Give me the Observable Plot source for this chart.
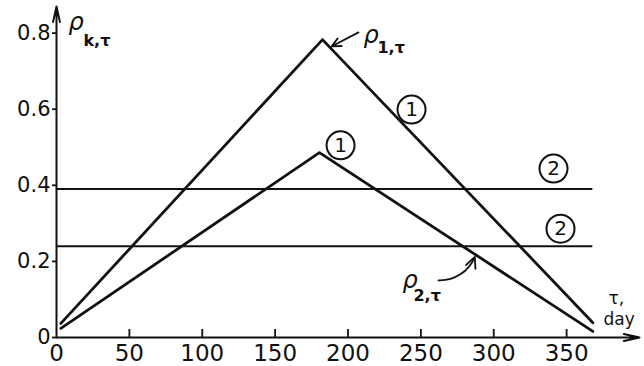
<!DOCTYPE html>
<html>
<head>
<meta charset="utf-8">
<script src="https://cdn.jsdelivr.net/npm/d3@7"></script>
<script src="https://cdn.jsdelivr.net/npm/@observablehq/plot@0.6"></script>
<style>
  html, body { margin: 0; padding: 0; background: #fff; }
</style>
</head>
<body>
<div id="chart"></div>
<script>
// ---- data ----
const days1 = [3, 182.5, 368];
const rho1  = [0.037, 0.783, 0.039];
const days2 = [3, 180.4, 368];
const rho2  = [0.024, 0.486, 0.016];
const levels = [0.39, 0.24];          // curves (2)
const levelStart = 0, levelEnd = 368;
const xTicks = [0, 50, 100, 150, 200, 250, 300, 350];
const yTicks = [0, 0.2, 0.4, 0.6, 0.8];

const series1 = days1.map((d, i) => ({day: d, rho: rho1[i]}));
const series2 = days2.map((d, i) => ({day: d, rho: rho2[i]}));

// annotations in data units
const rhoLabels = [
  {x: 8.2,   y: 0.809, t: "ρ"},
  {x: 210.6, y: 0.775, t: "ρ"},
  {x: 237.4, y: 0.131, t: "ρ"}
];
const subLabels = [
  {x: 18.5,  y: 0.765, t: "k,τ"},
  {x: 220.2, y: 0.749, t: "1,τ"},
  {x: 244.9, y: 0.097, t: "2,τ"}
];
const circled = [
  {x: 243.6, y: 0.599, t: "1"},
  {x: 194.9, y: 0.505, t: "1"},
  {x: 341.0, y: 0.444, t: "2"},
  {x: 345.8, y: 0.286, t: "2"}
];
const axisNames = [
  {x: 378.7, y: 0.087, t: "τ,"},
  {x: 375.3, y: 0.033, t: "day"}
];
const pointer1 = [{x1: 207.2, y1: 0.802, x2: 188.7, y2: 0.765}];
const pointer2 = [{x1: 262.1, y1: 0.150, x2: 287.0, y2: 0.212}];

const font = "DejaVu Sans";
const ink = "#111";
const arrowOpts = {x1: "x1", y1: "y1", x2: "x2", y2: "y2", stroke: ink, strokeWidth: 1.8, headLength: 10, headAngle: 50};

const chart = Plot.plot({
  width: 644,
  height: 366,
  marginLeft: 56,
  marginRight: 5,
  marginTop: 6,
  marginBottom: 29,
  style: {fontFamily: font, background: "#fff", color: ink},
  x: {domain: [0, 400]},
  y: {domain: [0, 0.87]},
  marks: [
    // axes lines with arrows
    Plot.arrow([{x1: 0, y1: 0, x2: 400, y2: 0}], {x1: "x1", y1: "y1", x2: "x2", y2: "y2", stroke: ink, strokeWidth: 2, headLength: 12, headAngle: 25}),
    Plot.arrow([{x1: 0, y1: 0, x2: 0, y2: 0.87}], {x1: "x1", y1: "y1", x2: "x2", y2: "y2", stroke: ink, strokeWidth: 2, headLength: 12, headAngle: 25}),
    // inward x ticks
    Plot.ruleX(xTicks.filter(d => d > 0), {x: d => d, y1: 0, y2: 0.021, stroke: ink, strokeWidth: 1.8}),
    Plot.axisX({ticks: xTicks, tickSize: 0, tickPadding: 7, fontSize: 23, tickFormat: d => String(d), fill: ink}),
    Plot.axisY({ticks: yTicks, tickSize: 4, tickPadding: 2, fontSize: 21, strokeWidth: 1.8, tickFormat: d => d === 0 ? "0" : d.toFixed(1), fill: ink, stroke: ink}),
    // horizontal levels (2)
    Plot.ruleY(levels, {y: d => d, x1: levelStart, x2: levelEnd, stroke: ink, strokeWidth: 2}),
    // curves (1)
    Plot.line(series1, {x: "day", y: "rho", stroke: ink, strokeWidth: 2.8}),
    Plot.line(series2, {x: "day", y: "rho", stroke: ink, strokeWidth: 2.8}),
    // labels
    Plot.text(rhoLabels, {x: "x", y: "y", text: "t", textAnchor: "start", lineAnchor: "bottom", fontSize: 24, fontStyle: "italic", fill: ink}),
    Plot.text(subLabels, {x: "x", y: "y", text: "t", textAnchor: "start", lineAnchor: "bottom", fontSize: 16, fontWeight: "bold", fill: ink}),
    Plot.dot(circled, {x: "x", y: "y", r: 14, stroke: ink, strokeWidth: 2, fill: "none"}),
    Plot.text(circled, {x: "x", y: "y", text: "t", fontSize: 20, fill: ink}),
    Plot.text(axisNames, {x: "x", y: "y", text: "t", textAnchor: "start", lineAnchor: "bottom", fontSize: 17, fill: ink}),
    Plot.arrow(pointer1, {...arrowOpts, bend: 0}),
    Plot.arrow(pointer2, {...arrowOpts, bend: -35})
  ]
});
document.getElementById("chart").appendChild(chart);
</script>
</body>
</html>
